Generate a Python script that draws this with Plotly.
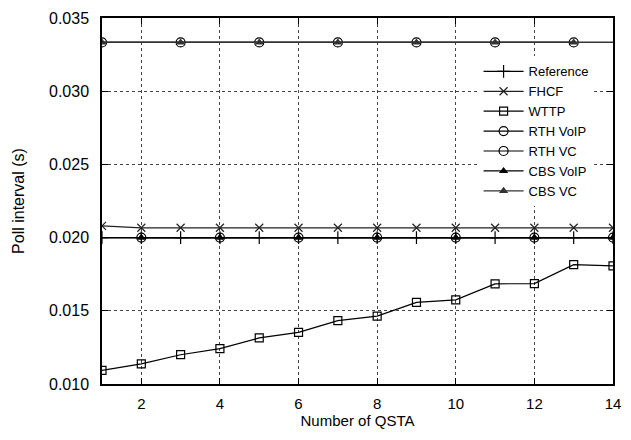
import plotly.graph_objects as go

qsta = list(range(1, 15))
reference = [0.020] * 14
fhcf = [0.0208, 0.02067, 0.02067, 0.02067, 0.02067, 0.02067, 0.02067,
        0.02067, 0.02067, 0.02067, 0.02067, 0.02067, 0.02067, 0.02067]
wttp = [0.01093, 0.01137, 0.0120, 0.01242, 0.01315, 0.01353, 0.01433,
        0.01464, 0.01557, 0.01575, 0.01684, 0.01686, 0.01815, 0.01807]
rth_voip = [0.020] * 14
rth_vc = [0.03333] * 14
cbs_voip = [0.020] * 14
cbs_vc = [0.03333] * 14
# marker positions shown for the RTH/CBS series
voip_marks = [2, 4, 6, 8, 10, 12, 14]
vc_marks = [1, 3, 5, 7, 9, 11, 13]

FONT = "Liberation Sans, Arial, Helvetica, sans-serif"
fig = go.Figure()

def add(name, x, y, symbol, size, color="black", marks=None, width=1.2):
    if marks is None:
        fig.add_trace(go.Scatter(x=x, y=y, name=name, mode="lines+markers",
                                 line=dict(color=color, width=width),
                                 marker=dict(symbol=symbol, size=size, color=color,
                                             line=dict(color=color, width=1.2))))
    else:
        fig.add_trace(go.Scatter(x=x, y=y, mode="lines", showlegend=False,
                                 line=dict(color=color, width=width), hoverinfo="skip"))
        mx = [v for v in x if v in marks]
        my = [y[x.index(v)] for v in mx]
        fig.add_trace(go.Scatter(x=mx, y=my, name=name, mode="lines+markers",
                                 line=dict(color=color, width=width),
                                 marker=dict(symbol=symbol, size=size, color=color,
                                             line=dict(color=color, width=1.2))))

add("Reference", qsta, reference, "cross-thin", 9)
add("FHCF", qsta, fhcf, "x-thin", 8, color="#222")
add("WTTP", qsta, wttp, "square-open", 8)
add("RTH VoIP", qsta, rth_voip, "circle-open", 9, marks=voip_marks)
add("RTH VC", qsta, rth_vc, "circle-open", 9, marks=vc_marks)
add("CBS VoIP", qsta, cbs_voip, "triangle-up", 6, marks=voip_marks)
add("CBS VC", qsta, cbs_vc, "triangle-up", 6, color="#333", marks=vc_marks)

axis_common = dict(showline=True, linecolor="black", linewidth=1.5, mirror="allticks",
                   ticks="inside", ticklen=6, tickcolor="black", tickwidth=1,
                   showgrid=True, gridcolor="#444", gridwidth=0.8, griddash="dot",
                   zeroline=False)

fig.update_xaxes(range=[1, 14], tickvals=[2, 4, 6, 8, 10, 12, 14],
                 tickfont=dict(size=15, color="black", family=FONT),
                 title=dict(text="Number of QSTA", font=dict(size=15, color="black", family=FONT),
                            standoff=3),
                 ticklabelstandoff=5, **axis_common)
fig.update_yaxes(range=[0.010, 0.035], tickvals=[0.010, 0.015, 0.020, 0.025, 0.030, 0.035],
                 tickformat=".3f",
                 tickfont=dict(size=16, color="black", family=FONT),
                 title=dict(text="Poll interval (s)", font=dict(size=16, color="black", family=FONT),
                            standoff=20),
                 ticklabelstandoff=8, **axis_common)

fig.update_layout(
    width=631, height=440,
    margin=dict(l=102, r=10, t=12, b=56),
    paper_bgcolor="white", plot_bgcolor="white",
    font=dict(family=FONT, size=14, color="black"),
    legend=dict(x=0.962, xanchor="right", y=0.895, yanchor="top",
                bgcolor="white", borderwidth=0, font=dict(size=13, family=FONT),
                itemwidth=40, tracegroupgap=0),
    showlegend=True,
)

fig.write_html("out.html")
